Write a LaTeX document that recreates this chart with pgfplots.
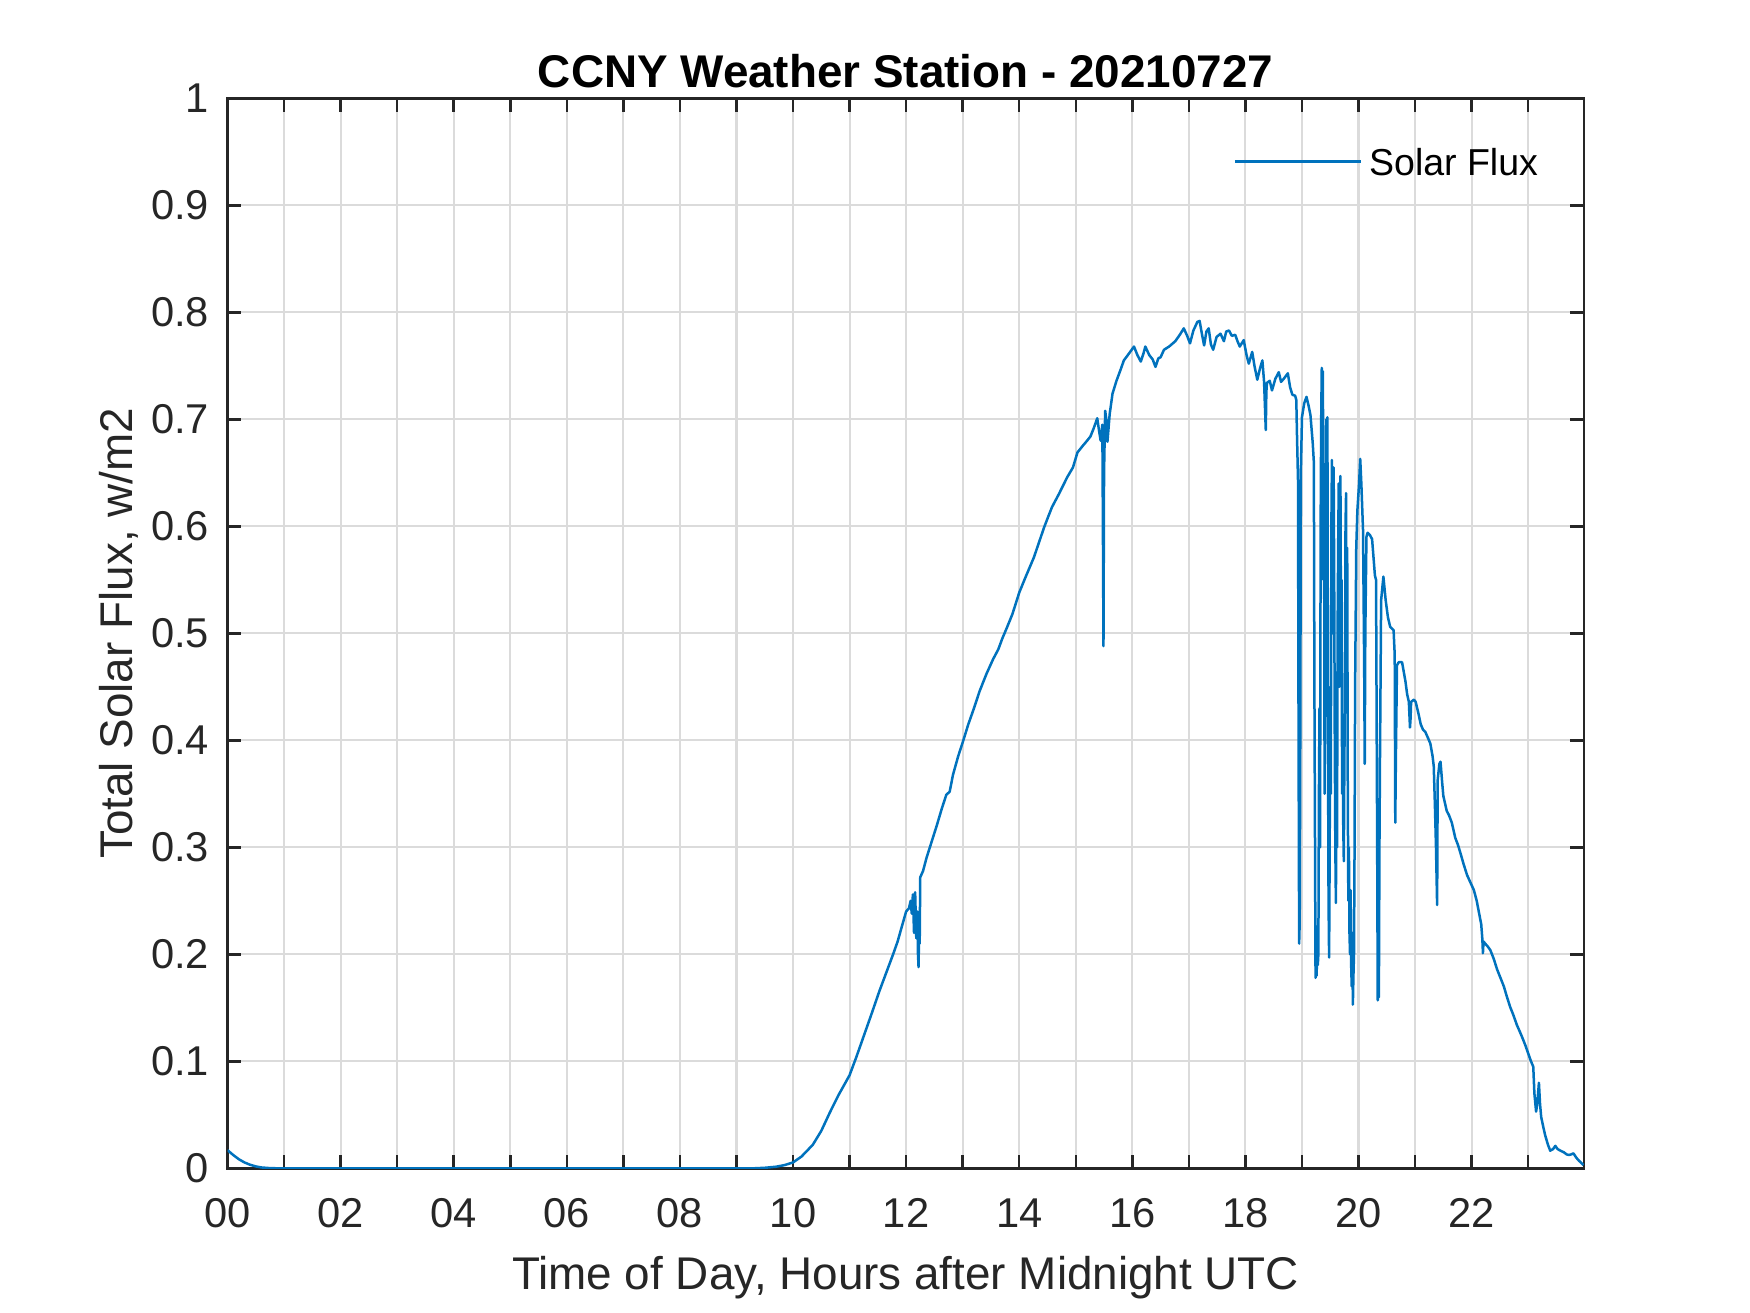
\documentclass[border=0pt]{standalone}
\usepackage{pgfplots}
\pgfplotsset{compat=1.18}
\usepackage{pgfplotstable}
\usepackage{fontspec}
\setmainfont{Liberation Sans}
\definecolor{mblue}{RGB}{0,114,189}
\definecolor{mdark}{rgb}{0.15,0.15,0.15}

\pgfplotstableread{
h v
0.000 0.017
0.1 0.0125
0.2 0.0085
0.3 0.0055
0.4 0.0033
0.5 0.0018
0.6 0.0008
0.75 0.0002
0.9 0
9.3 0
9.5 0.0005
9.7 0.0015
9.85 0.003
10.0 0.0055
10.15 0.011
10.35 0.022
10.5 0.035
10.65 0.052
10.8 0.068
11.0 0.087
11.12 0.104
11.24 0.122
11.38 0.143
11.53 0.166
11.65 0.183
11.77 0.200
11.85 0.212
11.93 0.227
12.0 0.240
12.05 0.243
12.08 0.250
12.10 0.238
12.12 0.256
12.14 0.220
12.16 0.258
12.18 0.215
12.20 0.240
12.21 0.200
12.22 0.188
12.23 0.225
12.24 0.210
12.25 0.272
12.30 0.278
12.36 0.290
12.45 0.305
12.54 0.320
12.63 0.336
12.71 0.349
12.77 0.352
12.83 0.368
12.92 0.385
13.0 0.398
13.1 0.415
13.2 0.430
13.3 0.446
13.42 0.462
13.54 0.476
13.63 0.485
13.7 0.495
13.78 0.505
13.88 0.518
14.0 0.538
14.1 0.551
14.18 0.561
14.26 0.571
14.35 0.585
14.44 0.599
14.52 0.610
14.58 0.618
14.7 0.630
14.85 0.646
14.95 0.655
15.03 0.669
15.12 0.675
15.2 0.680
15.26 0.684
15.32 0.692
15.38 0.701
15.41 0.690
15.44 0.680
15.47 0.695
15.48 0.600
15.49 0.488
15.50 0.650
15.52 0.708
15.54 0.700
15.56 0.679
15.60 0.705
15.65 0.724
15.72 0.736
15.79 0.746
15.85 0.755
15.92 0.760
16.03 0.768
16.09 0.760
16.15 0.754
16.2 0.762
16.23 0.768
16.3 0.760
16.36 0.756
16.41 0.749
16.46 0.757
16.5 0.758
16.56 0.765
16.65 0.768
16.76 0.773
16.84 0.779
16.91 0.785
16.97 0.778
17.02 0.771
17.08 0.783
17.15 0.791
17.19 0.792
17.23 0.780
17.27 0.769
17.31 0.782
17.35 0.785
17.39 0.770
17.43 0.765
17.49 0.777
17.56 0.780
17.62 0.773
17.66 0.782
17.71 0.783
17.76 0.778
17.82 0.779
17.86 0.773
17.90 0.768
17.97 0.774
18.02 0.760
18.06 0.752
18.12 0.763
18.16 0.750
18.21 0.737
18.26 0.748
18.30 0.755
18.33 0.735
18.36 0.690
18.37 0.725
18.38 0.734
18.43 0.736
18.47 0.727
18.53 0.738
18.59 0.744
18.63 0.735
18.68 0.738
18.75 0.743
18.79 0.730
18.83 0.723
18.88 0.722
18.90 0.718
18.91 0.690
18.93 0.643
18.94 0.400
18.95 0.210
18.96 0.230
18.97 0.400
18.98 0.650
19.0 0.702
19.04 0.715
19.08 0.721
19.12 0.712
19.15 0.704
19.19 0.678
19.21 0.660
19.22 0.450
19.24 0.178
19.25 0.200
19.26 0.180
19.27 0.226
19.28 0.190
19.29 0.200
19.30 0.350
19.31 0.430
19.32 0.300
19.33 0.600
19.34 0.700
19.35 0.748
19.36 0.600
19.37 0.745
19.38 0.550
19.39 0.650
19.40 0.350
19.41 0.450
19.42 0.620
19.43 0.700
19.44 0.560
19.45 0.702
19.46 0.400
19.47 0.250
19.48 0.197
19.49 0.300
19.50 0.450
19.51 0.350
19.52 0.600
19.53 0.662
19.54 0.500
19.55 0.600
19.56 0.655
19.57 0.550
19.58 0.400
19.59 0.300
19.60 0.248
19.61 0.350
19.62 0.300
19.63 0.500
19.64 0.580
19.65 0.640
19.66 0.450
19.67 0.600
19.68 0.647
19.69 0.500
19.70 0.550
19.71 0.350
19.72 0.400
19.73 0.320
19.74 0.287
19.75 0.380
19.76 0.450
19.77 0.600
19.78 0.631
19.79 0.450
19.80 0.580
19.81 0.350
19.82 0.250
19.83 0.300
19.84 0.220
19.85 0.200
19.86 0.260
19.87 0.190
19.88 0.170
19.89 0.220
19.90 0.153
19.91 0.180
19.92 0.200
19.93 0.300
19.94 0.450
19.96 0.580
19.98 0.615
20.01 0.640
20.03 0.663
20.05 0.640
20.08 0.596
20.10 0.470
20.11 0.378
20.12 0.500
20.14 0.590
20.16 0.594
20.20 0.592
20.24 0.588
20.29 0.554
20.31 0.550
20.33 0.300
20.34 0.157
20.35 0.170
20.36 0.160
20.37 0.300
20.38 0.386
20.40 0.531
20.44 0.553
20.48 0.531
20.52 0.515
20.56 0.506
20.62 0.503
20.64 0.480
20.65 0.323
20.66 0.380
20.68 0.470
20.71 0.473
20.77 0.473
20.83 0.455
20.86 0.443
20.89 0.436
20.91 0.412
20.92 0.420
20.93 0.436
20.98 0.438
21.01 0.436
21.06 0.425
21.10 0.415
21.14 0.410
21.18 0.408
21.23 0.402
21.27 0.397
21.31 0.385
21.33 0.376
21.35 0.341
21.37 0.300
21.39 0.246
21.40 0.363
21.43 0.378
21.45 0.380
21.48 0.360
21.5 0.348
21.56 0.334
21.6 0.330
21.65 0.323
21.71 0.309
21.76 0.302
21.80 0.295
21.86 0.284
21.92 0.274
21.98 0.267
22.04 0.260
22.09 0.250
22.13 0.239
22.17 0.228
22.19 0.214
22.20 0.201
22.21 0.212
22.24 0.210
22.29 0.207
22.33 0.204
22.39 0.196
22.45 0.186
22.51 0.178
22.57 0.170
22.62 0.161
22.68 0.151
22.74 0.143
22.8 0.134
22.85 0.128
22.89 0.123
22.95 0.115
23.01 0.106
23.05 0.100
23.09 0.095
23.11 0.070
23.14 0.053
23.16 0.060
23.19 0.080
23.21 0.060
23.23 0.048
23.27 0.038
23.30 0.031
23.35 0.022
23.39 0.0165
23.44 0.018
23.48 0.021
23.52 0.018
23.57 0.0165
23.63 0.015
23.68 0.013
23.72 0.0125
23.76 0.013
23.80 0.014
23.85 0.010
23.9 0.007
23.98 0.003
}\flux

\begin{document}
\begin{tikzpicture}
\useasboundingbox (-54.6pt,-34.6pt) rectangle (365.4pt,280.4pt);
\begin{axis}[
  at={(0,0)}, anchor=south west,
  scale only axis,
  width=325.5pt, height=256.8pt,
  xmin=0, xmax=23.983, ymin=0, ymax=1,
  xtick={0,2,...,22},
  xticklabels={00,02,04,06,08,10,12,14,16,18,20,22},
  minor xtick={1,3,...,23},
  ytick={0,0.1,...,1},
  yticklabels={0,0.1,0.2,0.3,0.4,0.5,0.6,0.7,0.8,0.9,1},
  xtick pos=both, ytick pos=both,
  tick align=inside,
  major tick length=3.3pt, minor tick length=3.3pt,
  tick style={mdark, line width=0.6pt},
  minor tick style={mdark, line width=0.6pt},
  axis line style={mdark, line width=0.6pt},
  grid=both,
  major grid style={black!14, line width=0.5pt},
  minor grid style={black!14, line width=0.5pt},
  xticklabel style={anchor=base, inner sep=0pt, yshift=-14.26pt, font=\fontsize{10}{12}\selectfont, text=mdark},
  yticklabel style={anchor=east, inner sep=0pt, xshift=-4.2pt, font=\fontsize{10}{12}\selectfont, text=mdark},
  xlabel={Time of Day, Hours after Midnight UTC},
  xlabel style={at={(axis description cs:0.5,0)}, anchor=base, inner sep=0pt, yshift=-29.1pt, font=\fontsize{11}{13}\selectfont, text=mdark},
  ylabel={Total Solar Flux, w/m2},
  ylabel style={at={(axis description cs:0,0.5)}, anchor=base, inner sep=0pt, yshift=22.8pt, font=\fontsize{11}{13}\selectfont, text=mdark},
  title={CCNY Weather Station - 20210727},
  title style={at={(axis description cs:0.5,1)}, anchor=base, inner sep=0pt, yshift=-3.3pt, font=\fontsize{11}{13}\selectfont\bfseries, text=black},
  legend style={draw=none, fill=none, at={(axis description cs:0.7413,0.9408)}, anchor=west,
    inner xsep=0pt, inner ysep=0pt, font=\fontsize{9}{11}\selectfont,
    nodes={inner sep=0pt, text depth=0pt},
    /tikz/every odd column/.append style={column sep=1.7pt}},
  legend image code/.code={\draw[#1] (0pt,0pt) -- (30.2pt,0pt);},
]
\addplot[mblue, line width=0.6pt, line join=round] table[x=h, y=v] {\flux};
\addlegendentry{Solar Flux}
\end{axis}
\end{tikzpicture}
\end{document}
